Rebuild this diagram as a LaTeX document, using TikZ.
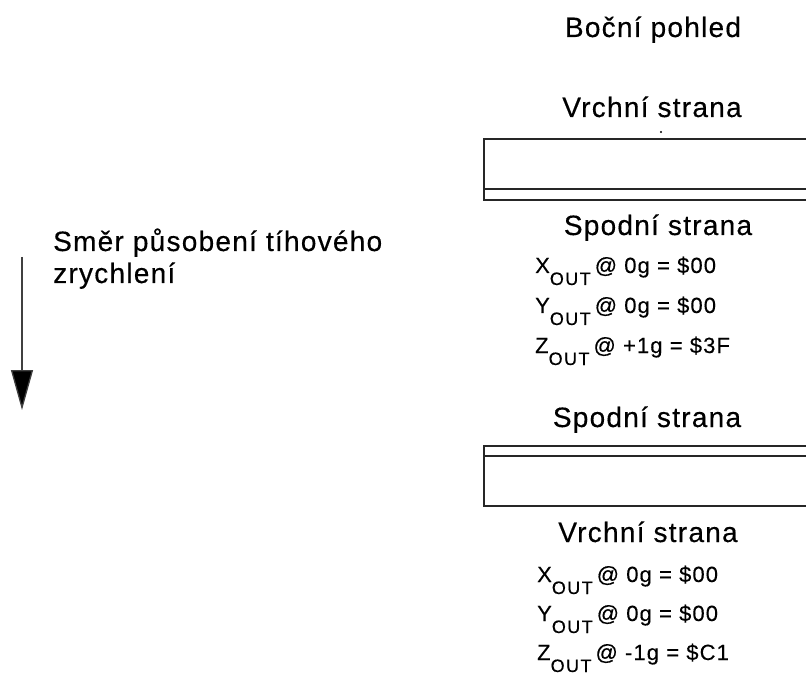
\documentclass[tikz,border=0pt]{standalone}
\usepackage{fontspec}
\setmainfont{Liberation Sans}
\newfontfamily\labelfont[LetterSpace=4.5,FakeBold=0.4]{Liberation Sans}
\newfontfamily\valuefont[LetterSpace=5,FakeBold=0.3]{Liberation Sans}
\newfontfamily\subfont[LetterSpace=8,FakeBold=0.3]{Liberation Sans}
\usetikzlibrary{arrows.meta}

% one register line: axis letter, subscript OUT, then the reading
\newcommand{\regline}[2]{%
  {\valuefont\fontsize{22}{24}\selectfont #1}%
  \raisebox{-12pt}{\subfont\fontsize{18}{20}\selectfont OUT}%
  \hspace{4pt}{\valuefont\fontsize{22}{24}\selectfont #2}}

\begin{document}
\begin{tikzpicture}[x=1pt,y=-1pt,
  title/.style={anchor=base,inner sep=0pt,font=\labelfont\fontsize{28}{32}\selectfont},
  reading/.style={anchor=base west,inner sep=0pt},
  board/.style={line width=1.8pt,draw=black!85},
  gravity/.style={line width=1.3pt,draw=black!75,
    -{Triangle[width=22pt,length=40pt,fill=black]}}]
  \useasboundingbox (0,0) rectangle (806,676);
  \clip (0,0) rectangle (806,676);

  % heading
  \node[title] (view) at (653,37) {Boční pohled};

  % first orientation: top side up
  \node[title] (topA) at (652,117) {Vrchní strana};
  \fill (661,132) circle (1.2);
  \draw[board] (484,139) rectangle (840,200);
  \draw[board] (484,189) -- (840,189);
  \node[title] (botA) at (658,235) {Spodní strana};
  \node[reading] (xA) at (535,273) {\regline{X}{@ 0g = \$00}};
  \node[reading] (yA) at (535,313) {\regline{Y}{@ 0g = \$00}};
  \node[reading] (zA) at (535,353) {\regline{Z}{@ +1g = \$3F}};

  % second orientation: bottom side up
  \node[title] (botB) at (647,427) {Spodní strana};
  \draw[board] (484,446) rectangle (840,506);
  \draw[board] (484,456) -- (840,456);
  \node[title] (topB) at (648,542) {Vrchní strana};
  \node[reading] (xB) at (537,582) {\regline{X}{@ 0g = \$00}};
  \node[reading] (yB) at (537,621) {\regline{Y}{@ 0g = \$00}};
  \node[reading] (zB) at (537,660) {\regline{Z}{@ -1g = \$C1}};

  % direction of gravity
  \coordinate (gstart) at (22,257);
  \coordinate (gend) at (22,410);
  \draw[gravity] (gstart) -- (gend);
  \node[anchor=base west,inner sep=0pt,align=left,
        font=\labelfont\fontsize{28}{32}\selectfont] (glabel) at (53,283)
        {Směr působení tíhového\\zrychlení};
\end{tikzpicture}
\end{document}
